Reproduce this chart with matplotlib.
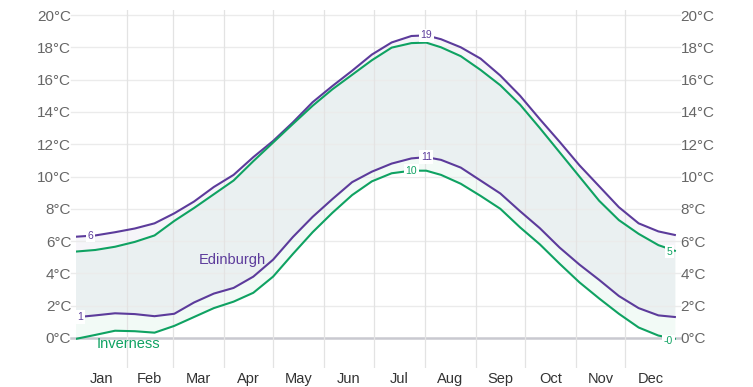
import numpy as np
import matplotlib.pyplot as plt

plt.rcParams['font.family'] = ['Liberation Sans', 'DejaVu Sans']

days = [0, 12, 24, 36, 48, 60, 72, 84, 96, 108, 120, 132, 144, 156, 168, 180,
        192, 204, 213, 222, 234, 246, 258, 270, 282, 294, 306, 318, 330, 342, 354, 364]

edinburgh_high = [6.27, 6.35, 6.55, 6.78, 7.1, 7.72, 8.45, 9.35, 10.1, 11.2, 12.2, 13.35,
                  14.6, 15.6, 16.55, 17.55, 18.3, 18.7, 18.74, 18.5, 18.0, 17.3, 16.25, 15.0,
                  13.55, 12.15, 10.7, 9.4, 8.1, 7.1, 6.6, 6.38]
edinburgh_low = [1.28, 1.4, 1.53, 1.48, 1.35, 1.5, 2.2, 2.75, 3.1, 3.8, 4.85, 6.25,
                 7.5, 8.6, 9.65, 10.3, 10.8, 11.12, 11.2, 11.03, 10.55, 9.75, 8.95, 7.85,
                 6.8, 5.6, 4.55, 3.6, 2.6, 1.85, 1.4, 1.3]
inverness_high = [5.35, 5.45, 5.65, 5.95, 6.35, 7.25, 8.05, 8.9, 9.75, 10.95, 12.1, 13.25,
                  14.38, 15.4, 16.3, 17.2, 17.98, 18.26, 18.29, 18.0, 17.45, 16.6, 15.65, 14.45,
                  13.0, 11.5, 10.0, 8.5, 7.3, 6.45, 5.75, 5.4]
inverness_low = [-0.06, 0.19, 0.45, 0.42, 0.33, 0.75, 1.3, 1.85, 2.25, 2.8, 3.8, 5.2,
                 6.55, 7.75, 8.85, 9.7, 10.2, 10.36, 10.36, 10.1, 9.55, 8.8, 8.0, 6.85,
                 5.8, 4.6, 3.45, 2.45, 1.5, 0.65, 0.15, -0.05]

month_starts = [0, 31, 59, 90, 120, 151, 181, 212, 243, 273, 304, 334, 365]
months = ['Jan', 'Feb', 'Mar', 'Apr', 'May', 'Jun', 'Jul', 'Aug', 'Sep', 'Oct', 'Nov', 'Dec']
temp_ticks = list(range(0, 21, 2))

PURPLE = '#5c3b9b'
GREEN = '#0fa262'

fig = plt.figure(figsize=(7.53, 3.87), dpi=100)
ax = fig.add_axes([75.5 / 753, 19 / 387, 601 / 753, 358 / 387])
ax.set_xlim(0, 365)
ax.set_ylim(-1.858, 20.31)
for s in ax.spines.values():
    s.set_visible(False)

# grid
for t in temp_ticks:
    if t == 0:
        ax.axhline(t, xmin=-0.007, xmax=1.005, color='#c9c9d0', lw=1.8, zorder=1, clip_on=False)
    else:
        ax.axhline(t, xmin=-0.007, xmax=1.005, color='#ebebeb', lw=1.0, zorder=1, clip_on=False)
for m in month_starts[1:-1]:
    ax.axvline(m, color='#e3e3e3', lw=0.9, zorder=1)

# bands
ax.fill_between(days, edinburgh_low, edinburgh_high, color=PURPLE, alpha=0.05, lw=0, zorder=0.5)
ax.fill_between(days, inverness_low, inverness_high, color=GREEN, alpha=0.05, lw=0, zorder=0.5)

# lines
ax.plot(days, edinburgh_high, color=PURPLE, lw=1.5, zorder=3)
ax.plot(days, edinburgh_low, color=PURPLE, lw=1.5, zorder=3)
ax.plot(days, inverness_high, color=GREEN, lw=1.5, zorder=3)
ax.plot(days, inverness_low, color=GREEN, lw=1.5, zorder=3)

box = dict(facecolor='white', edgecolor='none', pad=1.2)

def value_label(x, y, text, color):
    ax.text(x, y, text, color=color, fontsize=7.5, ha='center', va='center',
            bbox=box, zorder=4)

# start / end / peak labels
value_label(9, np.interp(9, days, edinburgh_high), f"{round(edinburgh_high[0]):d}", PURPLE)
value_label(3, np.interp(3, days, edinburgh_low), f"{round(edinburgh_low[0]):d}", PURPLE)
value_label(361, np.interp(361, days, inverness_high) - 0.15, f"{round(inverness_high[-1]):d}", GREEN)
value_label(360, inverness_low[-1] - 0.15, "-0", GREEN)
i = int(np.argmax(edinburgh_high))
value_label(days[i], edinburgh_high[i], f"{round(edinburgh_high[i]):d}", PURPLE)
i = int(np.argmax(edinburgh_low))
value_label(days[i], edinburgh_low[i], f"{round(edinburgh_low[i]):d}", PURPLE)
i = int(np.argmax(inverness_low))
value_label(days[i], inverness_low[i], f"{round(inverness_low[i]):d}", GREEN)

# series names
ax.text(95.5, 4.83, 'Edinburgh', color=PURPLE, fontsize=10.5, ha='center', va='center', zorder=4)
ax.text(32, -0.35, 'Inverness', color=GREEN, fontsize=10.5, ha='center', va='center', zorder=4)

# y axis labels on both sides
ax.set_yticks(temp_ticks)
ax.set_yticklabels([f"{t}°C" for t in temp_ticks])
ax.tick_params(axis='y', length=0, labelsize=11, labelcolor='#666666', pad=3,
               left=True, right=True, labelleft=True, labelright=True)

# month names centred in each month
ax.set_xticks(month_starts)
ax.set_xticklabels([])
ax.tick_params(axis='x', which='major', length=0)
mids = [(month_starts[k] + month_starts[k + 1]) / 2 for k in range(12)]
ax.set_xticks(mids, minor=True)
ax.set_xticklabels(months, minor=True)
ax.tick_params(axis='x', which='minor', length=0, labelsize=10.5, labelcolor='#333333', pad=3)

fig.savefig('out.png', dpi=100)
